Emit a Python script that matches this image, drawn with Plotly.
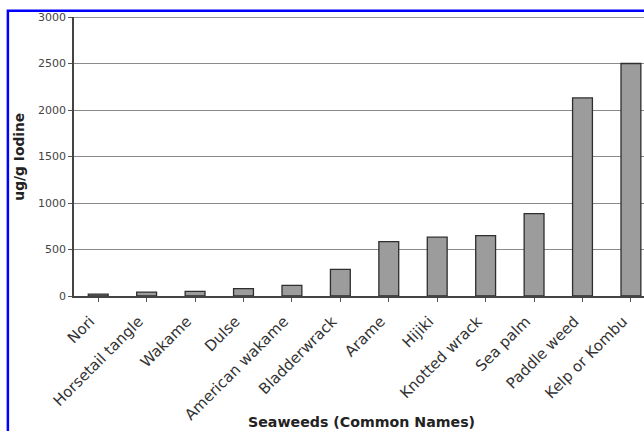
import plotly.graph_objects as go

# Iodine content of common edible seaweeds (ug/g)
seaweeds = [
    "Nori", "Horsetail tangle", "Wakame", "Dulse", "American wakame",
    "Bladderwrack", "Arame", "Hijiki", "Knotted wrack", "Sea palm",
    "Paddle weed", "Kelp or Kombu",
]
iodine_ug_per_g = [20, 42, 50, 80, 115, 287, 585, 632, 650, 885, 2130, 2500]
y_ticks = [0, 500, 1000, 1500, 2000, 2500, 3000]

FONT = "DejaVu Sans"
TEXT = "#333333"

fig = go.Figure(
    go.Bar(
        x=list(range(len(seaweeds))),
        y=iodine_ug_per_g,
        marker=dict(color="#9c9c9c", line=dict(color="#2e2e2e", width=1.3)),
        width=0.41,
    )
)

fig.update_layout(
    width=644,
    height=431,
    margin=dict(l=74, r=0, t=17, b=135),
    paper_bgcolor="white",
    plot_bgcolor="white",
    showlegend=False,
    font=dict(family=FONT, color=TEXT),
)

fig.update_xaxes(
    tickmode="array",
    tickvals=list(range(len(seaweeds))),
    ticktext=seaweeds,
    range=[-0.5, 11.27],
    tickangle=-45,
    tickfont=dict(family=FONT, size=15, color=TEXT),
    ticks="outside",
    tickson="boundaries",
    ticklen=4,
    tickcolor="#555555",
    ticklabelshift=-8,
    ticklabelstandoff=5,
    showline=True,
    linecolor="#444444",
    linewidth=1.5,
    showgrid=False,
    zeroline=False,
    automargin=False,
)

fig.update_yaxes(
    range=[0, 3000],
    tickmode="array",
    tickvals=y_ticks,
    ticktext=[str(v) for v in y_ticks],
    tickfont=dict(family=FONT, size=11, color="#444444"),
    ticks="outside",
    ticklen=4,
    tickcolor="#555555",
    showline=True,
    linecolor="#444444",
    linewidth=1.5,
    showgrid=True,
    gridcolor="#8a8a8a",
    gridwidth=1.3,
    zeroline=False,
    automargin=False,
)

# Top edge of the plot area
fig.add_shape(
    type="line", xref="paper", yref="y",
    x0=0, x1=1, y0=3000, y1=3000,
    line=dict(color="#6f6f6f", width=1.6), layer="above",
)

# Axis titles
fig.add_annotation(
    text="<b>Seaweeds (Common Names)</b>",
    xref="paper", yref="paper", x=0.505, y=-0.4516,
    xanchor="center", yanchor="middle", showarrow=False,
    font=dict(family=FONT, size=14.2, color="#222222"),
)
fig.add_annotation(
    text="<b>ug/g Iodine</b>",
    xref="paper", yref="paper", x=-0.098, y=0.5,
    xanchor="center", yanchor="middle", showarrow=False, textangle=-90,
    font=dict(family=FONT, size=13.8, color="#222222"),
)

# Blue outer frame
fig.add_shape(
    type="rect", xref="paper", yref="paper",
    x0=-0.116, x1=1.2, y0=-0.6, y1=1.022,
    line=dict(color="#0000ff", width=2.5), fillcolor="rgba(0,0,0,0)",
    layer="above",
)

fig.write_html("out.html")
